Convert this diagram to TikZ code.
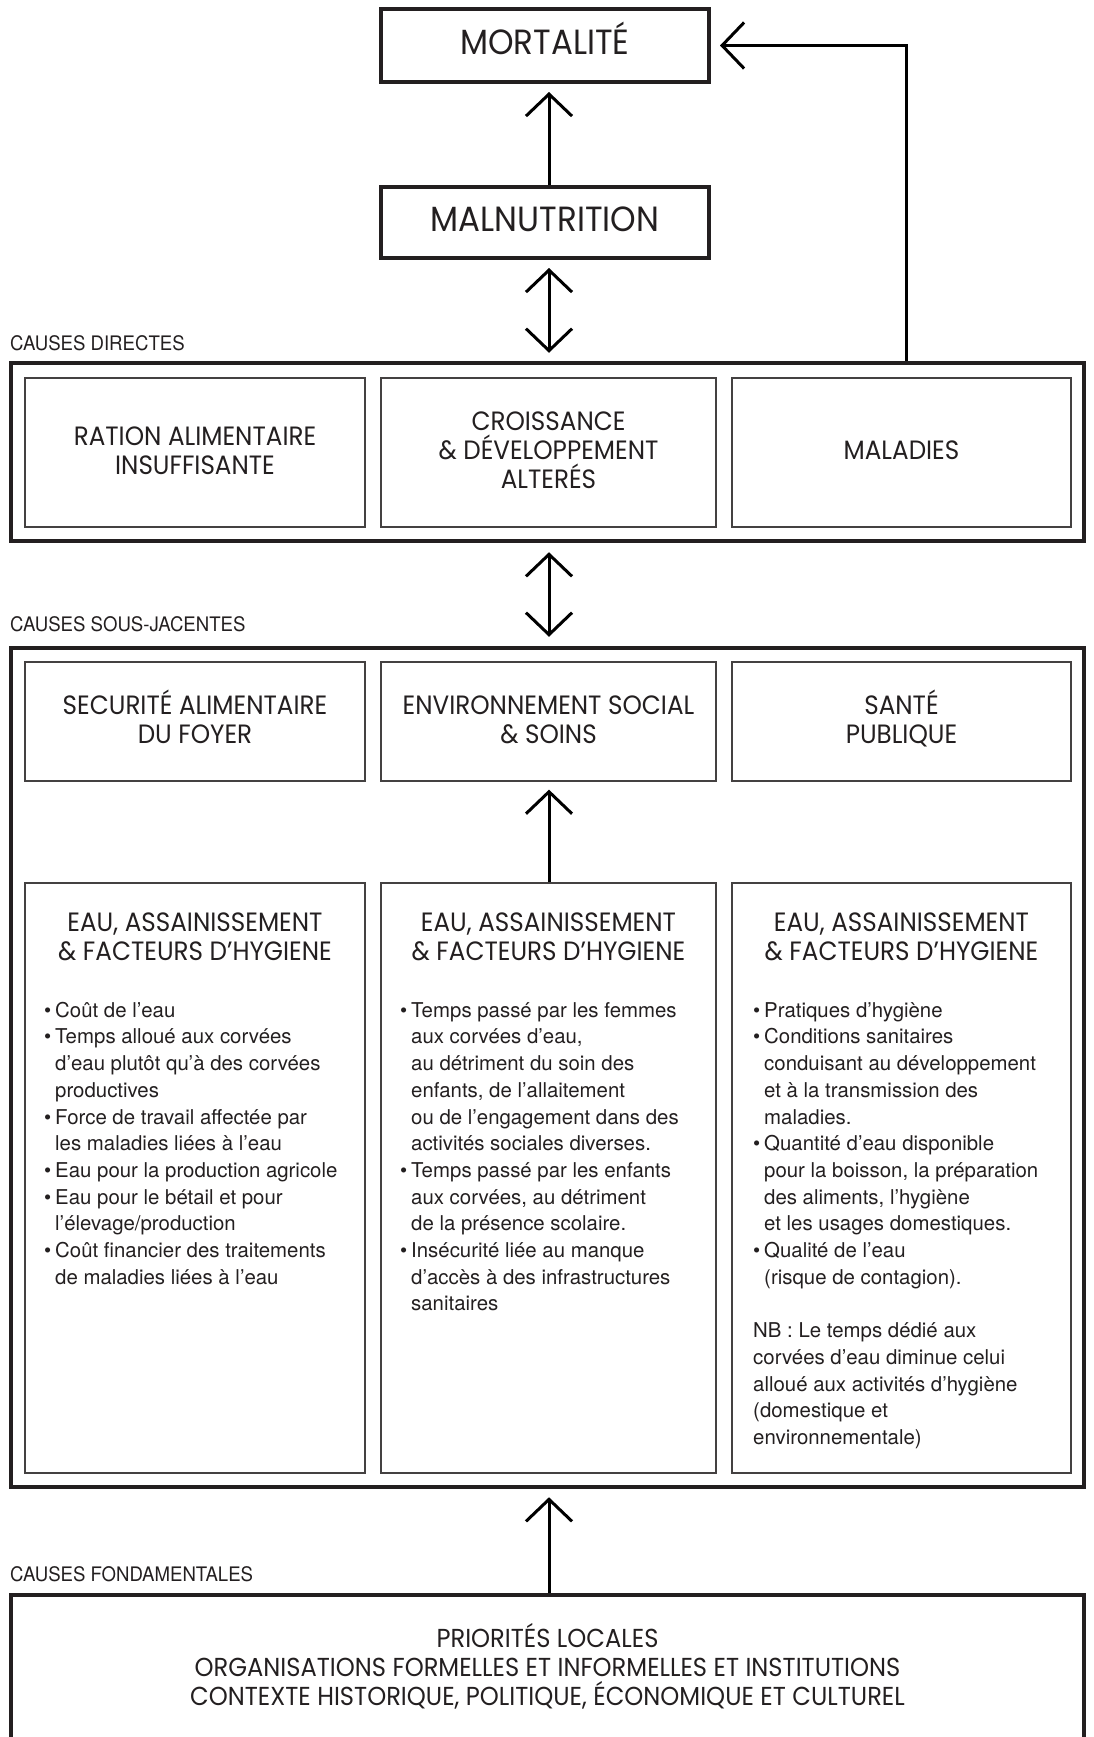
\documentclass[tikz,border=0pt]{standalone}
\usepackage{fontspec}
\setmainfont{TeX Gyre Heros}
\newfontfamily\headfont[FakeStretch=0.93]{Poppins}
\newfontfamily\tagfont[FakeStretch=0.93]{TeX Gyre Heros}
\usetikzlibrary{arrows.meta}
\definecolor{ink}{HTML}{231F20}
\newcommand{\itemdot}{\makebox[11pt][l]{\textbullet}}
\newcommand{\itemgap}{\hspace*{11pt}}
\newcommand{\cellhi}{\rule{0pt}{28pt}}
\newcommand{\celllo}{\rule[-14pt]{0pt}{14pt}}
\tikzset{outerbox/.style={draw=ink, line width=4.5pt, inner sep=0pt},
 levelbox/.style={draw=ink, line width=4pt, inner sep=0pt, text height=24pt, text depth=6.5pt,
  font=\headfont\fontsize{35}{38}\selectfont},
 cellbox/.style={draw=ink!85, line width=1.3pt, inner sep=0pt, align=center,
  font=\headfont\fontsize{26.5}{29}\selectfont},
 tag/.style={anchor=base west, inner sep=0pt, font=\tagfont\fontsize{20}{24}\selectfont},
 headtext/.style={anchor=north, inner sep=0pt, align=center, font=\headfont\fontsize{26.5}{29}\selectfont},
 bodytext/.style={anchor=north west, inner sep=0pt, align=left, font=\fontsize{20.4}{26.7}\selectfont},
 conn/.style={line width=3pt, -{Straight Barb[length=22pt,width=46pt]}},
 twoway/.style={line width=3pt, {Straight Barb[length=22pt,width=46pt]}-{Straight Barb[length=22pt,width=46pt]}},
}

\begin{document}
\begin{tikzpicture}[x=1pt, y=-1pt, text=ink]
    \useasboundingbox (0,0) rectangle (1093,1737);

    % top of the chain
    \node[levelbox, minimum width=328pt, minimum height=73pt] (mort) at (545,45.5) {MORTALITÉ};
    \node[levelbox, minimum width=328pt, minimum height=71pt] (maln) at (545,222.5) {MALNUTRITION};

    % causes directes
    \node[tag] (lbldir) at (10,350) {CAUSES DIRECTES};
    \node[outerbox, minimum width=1073pt, minimum height=178pt] (direct) at (547.5,452) {};
    \node[cellbox, minimum width=340pt, minimum height=149pt] (ration) at (195,452.5) {\cellhi RATION ALIMENTAIRE\\INSUFFISANTE\celllo};
    \node[cellbox, minimum width=335pt, minimum height=149pt] (crois) at (548.5,452.5) {\cellhi CROISSANCE\\\& DÉVELOPPEMENT\\ALTERÉS\celllo};
    \node[cellbox, minimum width=339pt, minimum height=149pt] (malad) at (901.5,452.5) {\cellhi MALADIES\celllo};

    % causes sous-jacentes
    \node[tag] (lblsous) at (10,631) {CAUSES SOUS-JACENTES};
    \node[outerbox, minimum width=1073pt, minimum height=839pt] (sousj) at (547.5,1067.5) {};
    \node[cellbox, minimum width=340pt, minimum height=119pt] (secu) at (195,721.5) {\cellhi SECURITÉ ALIMENTAIRE\\DU FOYER\celllo};
    \node[cellbox, minimum width=335pt, minimum height=119pt] (envi) at (548.5,721.5) {\cellhi ENVIRONNEMENT SOCIAL\\\& SOINS\celllo};
    \node[cellbox, minimum width=339pt, minimum height=119pt] (sante) at (901.5,721.5) {\cellhi SANTÉ\\PUBLIQUE\celllo};

    \node[cellbox, minimum width=340pt, minimum height=590pt] (eaua) at (195,1178) {};
    \node[cellbox, minimum width=335pt, minimum height=590pt] (eaub) at (548.5,1178) {};
    \node[cellbox, minimum width=339pt, minimum height=590pt] (eauc) at (901.5,1178) {};

    \node[headtext] (heada) at (195,910.7) {\strut EAU, ASSAINISSEMENT\\\& FACTEURS D’HYGIENE};
    \node[headtext] (headb) at (548.5,910.7) {\strut EAU, ASSAINISSEMENT\\\& FACTEURS D’HYGIENE};
    \node[headtext] (headc) at (901.5,910.7) {\strut EAU, ASSAINISSEMENT\\\& FACTEURS D’HYGIENE};

    \node[bodytext] (lista) at (44,998.3) {\strut\itemdot Coût de l’eau\\
        \itemdot Temps alloué aux corvées\\
        \itemgap d’eau plutôt qu’à des corvées\\
        \itemgap productives\\
        \itemdot Force de travail affectée par\\
        \itemgap les maladies liées à l’eau\\
        \itemdot Eau pour la production agricole\\
        \itemdot Eau pour le bétail et pour\\
        \itemgap l’élevage/production\\
        \itemdot Coût financier des traitements\\
        \itemgap de maladies liées à l’eau};
    \node[bodytext] (listb) at (400,998.3) {\strut\itemdot Temps passé par les femmes\\
        \itemgap aux corvées d’eau,\\
        \itemgap au détriment du soin des\\
        \itemgap enfants, de l’allaitement\\
        \itemgap ou de l’engagement dans des\\
        \itemgap activités sociales diverses.\\
        \itemdot Temps passé par les enfants\\
        \itemgap aux corvées, au détriment\\
        \itemgap de la présence scolaire.\\
        \itemdot Insécurité liée au manque\\
        \itemgap d’accès à des infrastructures\\
        \itemgap sanitaires};
    \node[bodytext] (listc) at (753,998.3) {\strut\itemdot Pratiques d’hygiène\\
        \itemdot Conditions sanitaires\\
        \itemgap conduisant au développement\\
        \itemgap et à la transmission des\\
        \itemgap maladies.\\
        \itemdot Quantité d’eau disponible\\
        \itemgap pour la boisson, la préparation\\
        \itemgap des aliments, l’hygiène\\
        \itemgap et les usages domestiques.\\
        \itemdot Qualité de l’eau\\
        \itemgap (risque de contagion).\\[26.7pt]
        NB : Le temps dédié aux\\
        corvées d’eau diminue celui\\
        alloué aux activités d’hygiène\\
        (domestique et\\
        environnementale)};

    % causes fondamentales
    \node[tag] (lblfond) at (10,1581) {CAUSES FONDAMENTALES};
    \node[outerbox, minimum width=1073pt, minimum height=149pt, align=center,
        font=\headfont\fontsize{26}{28.8}\selectfont] (fond) at (547.5,1669.5)
        {PRIORITÉS LOCALES\\ORGANISATIONS FORMELLES ET INFORMELLES ET INSTITUTIONS\\CONTEXTE HISTORIQUE, POLITIQUE, ÉCONOMIQUE ET CULTUREL\rule[-10.6pt]{0pt}{10pt}};

    % arrows
    \coordinate (axis) at (549,0);
    \coordinate (fbk) at (906,46);
    \draw[conn, shorten >=8pt] (maln.north -| axis) -- (mort.south -| axis);
    \draw[twoway, shorten <=8pt, shorten >=8pt] (maln.south -| axis) -- (direct.north -| axis);
    \draw[conn, shorten >=9pt] (direct.north -| fbk) |- (mort.east);
    \draw[twoway, shorten <=9pt, shorten >=9pt] (direct.south -| axis) -- (sousj.north -| axis);
    \draw[conn, shorten >=8pt] (eaub.north -| axis) -- (envi.south -| axis);
    \draw[conn, shorten >=8pt] (fond.north -| axis) -- (sousj.south -| axis);
\end{tikzpicture}
\end{document}
